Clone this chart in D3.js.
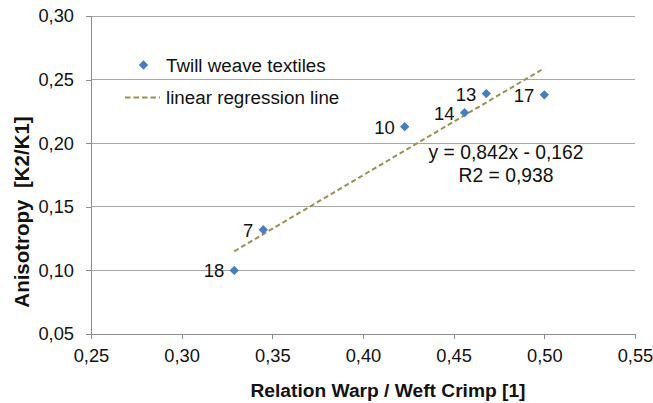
<!DOCTYPE html>
<html><head><meta charset="utf-8">
<script src="https://cdn.jsdelivr.net/npm/d3@7"></script>
<style>
html,body{margin:0;padding:0;background:#fff;}
text{font-family:"Liberation Sans",Arial,Helvetica,sans-serif;fill:#111;}
</style></head>
<body>
<svg id="chart" width="653" height="403"></svg>
<script>
const xValues = [0.329, 0.345, 0.423, 0.456, 0.468, 0.500];
const yValues = [0.100, 0.132, 0.213, 0.224, 0.239, 0.238];
const pointLabels = ["18", "7", "10", "14", "13", "17"];
const xTicks = [0.25, 0.30, 0.35, 0.40, 0.45, 0.50, 0.55];
const yTicks = [0.05, 0.10, 0.15, 0.20, 0.25, 0.30];
const slope = 0.842, intercept = -0.162;
const equationLines = ["y = 0,842x - 0,162", "R2 = 0,938"];
const legendLabels = ["Twill weave textiles", "linear regression line"];
const xTitle = "Relation Warp / Weft Crimp [1]";
const yTitle = "Anisotropy\u00a0\u00a0[K2/K1]";

const svg = d3.select("#chart");
const L = 91, R = 635, T = 16, B = 334;
const x = d3.scaleLinear().domain([0.25, 0.55]).range([L, R]);
const y = d3.scaleLinear().domain([0.05, 0.30]).range([B, T]);
const fmt = v => d3.format(".2f")(v).replace(".", ",");
const blue = "#4A7EBB", olive = "#9B9157", grid = "#A6A6A6", axisC = "#8C8C8C";

// gridlines
svg.append("g").selectAll("line").data(yTicks.filter(v => v > 0.05)).join("line")
  .attr("x1", L).attr("x2", R).attr("y1", d => y(d)).attr("y2", d => y(d))
  .attr("stroke", grid).attr("stroke-width", 1).attr("shape-rendering", "crispEdges");

// axes
const xAxis = svg.append("g").attr("transform", `translate(0,${B})`)
  .call(d3.axisBottom(x).tickValues(xTicks).tickFormat(fmt).tickSize(5).tickPadding(10));
const yAxis = svg.append("g").attr("transform", `translate(${L},0)`)
  .call(d3.axisLeft(y).tickValues(yTicks).tickFormat(fmt).tickSize(5).tickPadding(12));
[xAxis, yAxis].forEach(g => {
  g.select(".domain").attr("stroke", axisC).attr("shape-rendering", "crispEdges");
  g.selectAll(".tick line").attr("stroke", axisC).attr("shape-rendering", "crispEdges");
  g.selectAll(".tick text").attr("font-size", 18.3).attr("fill", "#111")
    .attr("font-family", '"Liberation Sans",Arial,sans-serif');
});
xAxis.select(".domain").attr("d", `M${L},5V0H${R}V5`);
yAxis.select(".domain").attr("d", `M-5,${T}H0V${B}H-5`);

// regression line
const x0 = d3.min(xValues), x1 = d3.max(xValues);
svg.append("line")
  .attr("x1", x(x0)).attr("y1", y(slope * x0 + intercept))
  .attr("x2", x(x1)).attr("y2", y(slope * x1 + intercept))
  .attr("stroke", olive).attr("stroke-width", 2).attr("stroke-dasharray", "5,3");

// points
const diamond = d3.symbol().type(d3.symbolSquare).size(44);
svg.append("g").selectAll("path").data(xValues).join("path")
  .attr("d", diamond)
  .attr("transform", (d, i) => `translate(${x(d)},${y(yValues[i])}) rotate(45)`)
  .attr("fill", blue);

// point labels
svg.append("g").selectAll("text").data(xValues).join("text")
  .attr("x", d => x(d) - 10).attr("y", (d, i) => y(yValues[i]) + 7)
  .attr("text-anchor", "end").attr("font-size", 18.5)
  .text((d, i) => pointLabels[i]);

// equation
svg.append("g").selectAll("text").data(equationLines).join("text")
  .attr("x", 506).attr("y", (d, i) => 158.5 + i * 23.5)
  .attr("text-anchor", "middle").attr("font-size", 19.3)
  .text(d => d);

// legend
svg.append("path").attr("d", diamond)
  .attr("transform", "translate(143.5,65) rotate(45)").attr("fill", blue);
svg.append("line").attr("x1", 125).attr("x2", 160).attr("y1", 97.5).attr("y2", 97.5)
  .attr("stroke", olive).attr("stroke-width", 2).attr("stroke-dasharray", "5.5,3");
svg.append("g").selectAll("text").data(legendLabels).join("text")
  .attr("x", 166).attr("y", (d, i) => 71.5 + i * 32)
  .attr("font-size", 18.8).text(d => d);

// axis titles
svg.append("text").attr("x", 388).attr("y", 397).attr("text-anchor", "middle")
  .attr("font-size", 19.2).attr("font-weight", "bold").text(xTitle);
svg.append("text").attr("transform", "translate(29,212) rotate(-90)")
  .attr("text-anchor", "middle").attr("font-size", 20.5).attr("font-weight", "bold")
  .style("white-space", "pre").text(yTitle);
</script>
</body></html>
